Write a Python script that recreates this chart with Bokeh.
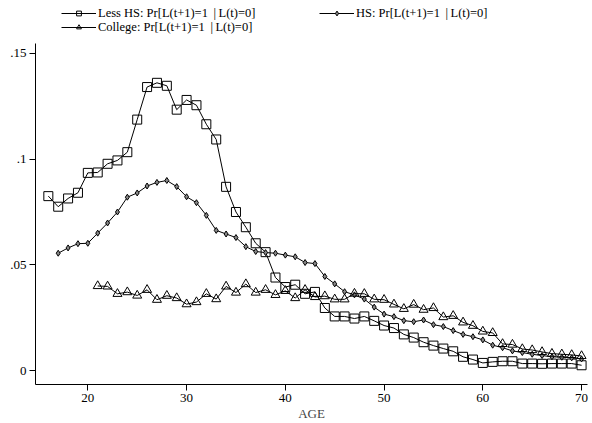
from bokeh.plotting import figure
from bokeh.layouts import column
from bokeh.models import Legend, LegendItem, FixedTicker, Range1d
from bokeh.embed import file_html
from bokeh.resources import INLINE

# ---- data ----
ages_lhs = list(range(16, 71))
less_hs = [0.0825, 0.0775, 0.0814, 0.0841, 0.0935, 0.0937, 0.0978, 0.0994, 0.1033, 0.1187,
           0.1341, 0.1361, 0.1347, 0.1234, 0.1280, 0.1255, 0.1165, 0.1093, 0.0869, 0.0750,
           0.0678, 0.0602, 0.0560, 0.0440, 0.0395, 0.0406, 0.0363, 0.0372, 0.0296, 0.0256,
           0.0256, 0.0246, 0.0256, 0.0235, 0.0213, 0.0201, 0.0171, 0.0156, 0.0134, 0.0118,
           0.0104, 0.0091, 0.0065, 0.0052, 0.0036, 0.0041, 0.0044, 0.0044, 0.0033, 0.0033,
           0.0032, 0.0033, 0.0033, 0.0033, 0.0025]

ages_hs = list(range(17, 71))
hs = [0.0555, 0.0580, 0.0600, 0.0602, 0.0650, 0.0698, 0.0750, 0.0820, 0.0840, 0.0873,
      0.0890, 0.0899, 0.0870, 0.0822, 0.0794, 0.0734, 0.0663, 0.0646, 0.0629, 0.0586,
      0.0563, 0.0558, 0.0555, 0.0546, 0.0538, 0.0511, 0.0506, 0.0445, 0.0410, 0.0373,
      0.0358, 0.0338, 0.0300, 0.0267, 0.0255, 0.0236, 0.0231, 0.0239, 0.0217, 0.0208,
      0.0189, 0.0171, 0.0160, 0.0145, 0.0120, 0.0108, 0.0093, 0.0085, 0.0077, 0.0071,
      0.0065, 0.0063, 0.0060, 0.0055]

ages_col = list(range(21, 71))
college = [0.0400, 0.0398, 0.0363, 0.0371, 0.0355, 0.0382, 0.0335, 0.0354, 0.0343, 0.0314,
           0.0324, 0.0363, 0.0338, 0.0398, 0.0369, 0.0409, 0.0369, 0.0382, 0.0358, 0.0377,
           0.0343, 0.0382, 0.0348, 0.0352, 0.0337, 0.0337, 0.0364, 0.0363, 0.0337, 0.0335,
           0.0313, 0.0292, 0.0312, 0.0288, 0.0296, 0.0253, 0.0259, 0.0228, 0.0212, 0.0185,
           0.0178, 0.0126, 0.0123, 0.0102, 0.0097, 0.0088, 0.0080, 0.0077, 0.0074, 0.0069]

x_ticks = [20, 30, 40, 50, 60, 70]
y_ticks = [0, 0.05, 0.1, 0.15]
y_tick_labels = {0: "0", 0.05: ".05", 0.1: ".1", 0.15: ".15"}

labels = ["Less HS: Pr[L(t+1)=1 \u2009|\u2009L(t)=0]",
          "HS: Pr[L(t+1)=1 \u2009|\u2009L(t)=0]",
          "College: Pr[L(t+1)=1 \u2009|\u2009L(t)=0]"]

FONT = "Liberation Serif"
SERIES = [(ages_lhs, less_hs), (ages_hs, hs), (ages_col, college)]
STYLES = [dict(marker="square", size=9, fill_color=None),
          dict(marker="diamond", size=6, fill_color="#888888"),
          dict(marker="triangle", size=9, fill_color=None)]

# ---- main plot ----
p = figure(width=592, height=380, output_backend="svg", toolbar_location=None,
           x_range=Range1d(14.7, 70.6), y_range=Range1d(-0.0066, 0.1547),
           min_border_left=35, min_border_right=5, min_border_top=0, min_border_bottom=38)
p.outline_line_color = None
p.xgrid.visible = False
p.ygrid.visible = False

for (xs, ys), st in zip(SERIES, STYLES):
    p.line(xs, ys, line_color="black", line_width=1)
    p.scatter(xs, ys, line_color="black", line_width=1, **st)

for ax in (p.xaxis[0], p.yaxis[0]):
    ax.axis_line_color = "black"
    ax.major_tick_line_color = "black"
    ax.major_tick_out = 6
    ax.major_tick_in = 0
    ax.minor_tick_line_color = None
    ax.major_label_text_font = FONT
    ax.major_label_text_font_size = "13px"
    ax.major_label_text_color = "black"
    ax.major_label_standoff = 3

p.xaxis.ticker = FixedTicker(ticks=x_ticks)
p.yaxis.ticker = FixedTicker(ticks=y_ticks)
p.yaxis.major_label_overrides = y_tick_labels
p.xaxis.axis_label = "AGE"
p.xaxis.axis_label_text_font = FONT
p.xaxis.axis_label_text_font_style = "normal"
p.xaxis.axis_label_text_font_size = "13px"
p.xaxis.axis_label_standoff = 1

# ---- legend strip (series drawn off-range, only their legend swatches show) ----
lf = figure(width=592, height=43, output_backend="svg", toolbar_location=None,
            x_axis_type=None, y_axis_type=None, x_range=Range1d(0, 1), y_range=Range1d(0, 1),
            min_border_left=0, min_border_right=0, min_border_top=0, min_border_bottom=0)
lf.outline_line_color = None
lf.xgrid.visible = False
lf.ygrid.visible = False

swatches = []
for (xs, ys), st in zip(SERIES, STYLES):
    ln = lf.line(xs, ys, line_color="black", line_width=1)
    sc = lf.scatter(xs, ys, line_color="black", line_width=1, **st)
    swatches.append([ln, sc])


def make_legend(items, loc):
    return Legend(items=items, orientation="horizontal", location=loc,
                  border_line_color=None, background_fill_alpha=0,
                  padding=0, margin=0, spacing=51,
                  glyph_width=35, glyph_height=12, label_height=12,
                  label_width=170, label_standoff=2,
                  label_text_font=FONT, label_text_font_size="12.5px",
                  label_text_color="black")


lf.add_layout(make_legend([LegendItem(label=labels[0], renderers=swatches[0]),
                           LegendItem(label=labels[1], renderers=swatches[1])], (26, 22.5)), "center")
lf.add_layout(make_legend([LegendItem(label=labels[2], renderers=swatches[2])], (26, 8.5)), "center")

layout = column(lf, p, spacing=0)
open("out.html", "w").write(file_html(layout, INLINE))
